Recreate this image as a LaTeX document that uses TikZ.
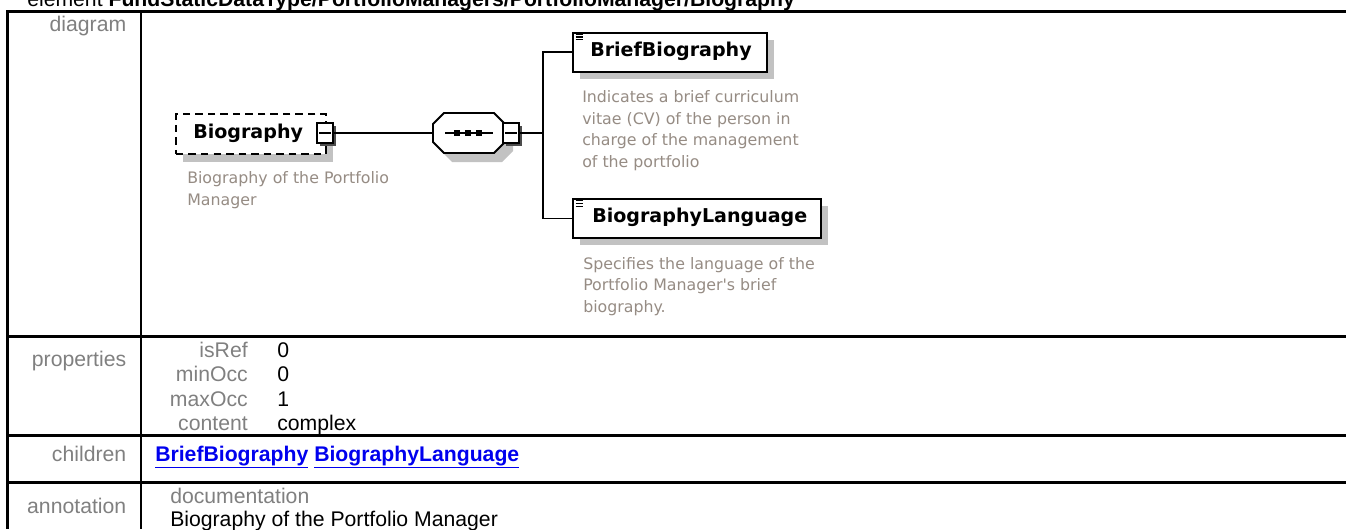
\documentclass[tikz,border=0pt]{standalone}
\usepackage{fontspec}
\setmainfont{Liberation Sans}
\newfontfamily\dejavu{DejaVu Sans}
\usetikzlibrary{calc}
\definecolor{lblgray}{RGB}{128,128,128}
\definecolor{descgray}{RGB}{150,140,132}
\definecolor{shadowgray}{RGB}{194,194,194}
\definecolor{linkblue}{RGB}{0,0,238}
\tikzset{
  tbl/.style={line width=2pt, black},
  lbl/.style={font=\fontsize{15.9}{18}\selectfont, text=lblgray, inner sep=0, anchor=base east},
  val/.style={font=\fontsize{15.9}{18}\selectfont, inner sep=0, anchor=base west},
  ename/.style={font=\dejavu\bfseries\fontsize{14.3}{17}\selectfont, inner sep=0, anchor=west},
  desc/.style={font=\dejavu\fontsize{11.85}{16.3}\selectfont, text=descgray, inner sep=0, align=left, anchor=base west},
  elembox/.style={draw, line width=1.4pt, fill=white, inner sep=0, anchor=north west},
  shade/.style={fill=shadowgray, draw=none},
  conn/.style={line width=1.4pt},
  minusbox/.style={draw, line width=1pt, fill=white, minimum width=12pt, minimum height=15pt, inner sep=0},
  minusshade/.style={fill=black!70, draw=none},
}
\begin{document}
\begin{tikzpicture}[x=0.75pt,y=-0.75pt]
\useasboundingbox (0,0) rectangle (1346,529);
\fill[white] (0,0) rectangle (1346,529);

% title (cut at top)
\node[val, font=\fontsize{15.9}{18}\selectfont] (title) at (27,6.5) {element \textbf{FundStaticDataType/PortfolioManagers/PortfolioManager/Biography}};

% table lines
\draw[tbl] (7.3,11.3) -- (1346,11.3);
\draw[tbl] (7.3,10.3) -- (7.3,529);
\draw[tbl] (141,11.3) -- (141,529);
\draw[tbl] (7.3,336.7) -- (1346,336.7);
\draw[tbl] (7.3,435.5) -- (1346,435.5);
\draw[tbl] (7.3,482.5) -- (1346,482.5);

% row labels
\node[lbl] (ldiag) at (126.5,31.5) {diagram};
\node[lbl] (lprop) at (126.5,366.5) {properties};
\node[lbl] (lchild) at (126.5,461) {children};
\node[lbl] (lann) at (126.5,513) {annotation};

% properties
\node[lbl] (pn1) at (248,357) {isRef};
\node[lbl] (pn2) at (248,381.5) {minOcc};
\node[lbl] (pn3) at (248,406) {maxOcc};
\node[lbl] (pn4) at (248,430.5) {content};
\node[val] (pv1) at (277,357) {0};
\node[val] (pv2) at (277,381.5) {0};
\node[val] (pv3) at (277,406) {1};
\node[val] (pv4) at (277,430.5) {complex};

% children
\node[val, text=linkblue, font=\fontsize{15.9}{18}\selectfont\bfseries] (links) at (155,461) {\underline{BriefBiography} \underline{BiographyLanguage}};

% annotation
\node[val, text=lblgray] (doc) at (170,503.5) {documentation};
\node[val] (doctext) at (170,526.5) {Biography of the Portfolio Manager};

% ---------------- diagram ----------------
% Biography element (optional, dashed)
\fill[shade] (183,122) rectangle (333,162);
\node[elembox, dashed, dash pattern=on 5.6pt off 3.8pt, minimum width=112.5pt, minimum height=30pt] (bio) at (175,113) {};
\node[ename] (biot) at (193,133) {Biography};
\fill[minusshade] (319.5,125.5) rectangle (335.5,145.5);
\node[minusbox] (bm) at (325,133) {};
\draw[line width=1pt] ($(bm.west)+(3,0)$) -- ($(bm.east)+(-3,0)$);
% base anchor of a multi-line node = baseline of its last line
\node[desc] (biod) at (187,205.7) {Biography of the Portfolio\\Manager};

% sequence compositor
\fill[shade] (452,122) -- (502,122) -- (513,133) -- (513,151) -- (502,162) -- (452,162) -- (441,151) -- (441,133) -- cycle;
\draw[line width=1.4pt, fill=white] (444,113) -- (494,113) -- (505,124) -- (505,142) -- (494,153) -- (444,153) -- (433,142) -- (433,124) -- cycle;
\coordinate (seq) at (433,133);
\draw[line width=1.3pt] (445,133) -- (493,133);
\foreach \dx in {457,468,479} \fill (\dx-2.7,130.3) rectangle (\dx+2.7,135.7);
\fill[minusshade] (505.5,125.5) rectangle (521.5,145.5);
\node[minusbox] (sm) at (511,133) {};
\draw[line width=1pt] ($(sm.west)+(3,0)$) -- ($(sm.east)+(-3,0)$);
\coordinate (jn) at (543,133);

% BriefBiography
\fill[shade] (579.7,39.7) rectangle (774,79);
\node[elembox, minimum width=145.7pt, minimum height=29.25pt] (bb) at (571.7,31.7) {};
\foreach \yy in {34.3,37,39.7} \draw[line width=0.8pt] (575.5,\yy) -- (583.3,\yy);
\node[ename] (bbt) at (590,51.5) {BriefBiography};
\node[desc] (bbd) at (582,167.6) {Indicates a brief curriculum\\vitae (CV) of the person in\\charge of the management\\of the portfolio};

% BiographyLanguage
\fill[shade] (579.7,206.3) rectangle (828,245);
\node[elembox, minimum width=186.2pt, minimum height=28.8pt] (bl) at (571.7,198.3) {};
\foreach \yy in {200.9,203.6,206.3} \draw[line width=0.8pt] (575.5,\yy) -- (583.3,\yy);
\node[ename] (blt) at (592,217.5) {BiographyLanguage};
\node[desc] (bld) at (583,312.5) {Specifies the language of the\\Portfolio Manager's brief\\biography.};

% connectors
\draw[conn] (bm.east) -- (seq);
\draw[conn] (sm.east) -- (jn);
\draw[conn] (bb.west) -| (jn) |- (bl.west);
\end{tikzpicture}
\end{document}
